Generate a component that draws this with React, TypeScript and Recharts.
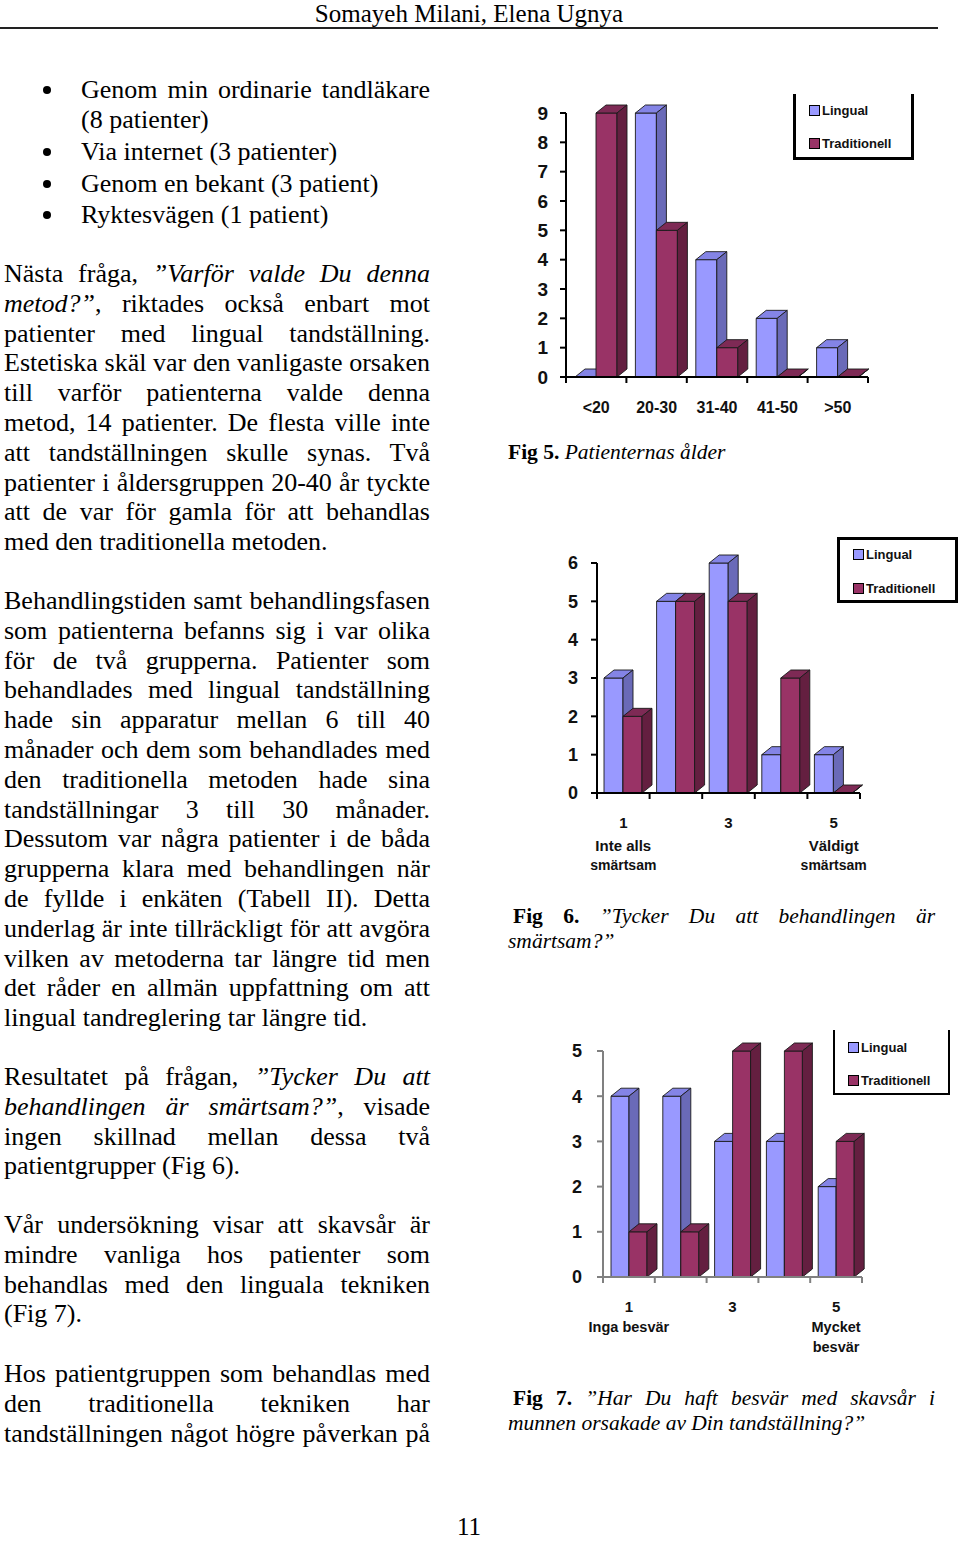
import React from 'react'
import { BarChart, Bar, XAxis, YAxis, Legend } from 'recharts'

// Fig 5 - Patienternas ålder
const AGE_GROUPS = ['<20', '20-30', '31-40', '41-50', '>50']
const AGE_LINGUAL = [0, 9, 4, 2, 1]
const AGE_TRAD = [9, 5, 1, 0, 0]
const AGE_TICKS = [0, 1, 2, 3, 4, 5, 6, 7, 8, 9]

// Fig 6 - smärtsam
const SCALE = ['1', '2', '3', '4', '5']
const PAIN_LABELS = [['1', 'Inte alls', 'smärtsam'], [], ['3'], [], ['5', 'Väldigt', 'smärtsam']]
const PAIN_LINGUAL = [3, 5, 6, 1, 1]
const PAIN_TRAD = [2, 5, 5, 3, 0]
const PAIN_TICKS = [0, 1, 2, 3, 4, 5, 6]

// Fig 7 - skavsår
const SORE_LABELS = [['1', 'Inga besvär'], [], ['3'], [], ['5', 'Mycket', 'besvär']]
const SORE_LINGUAL = [4, 4, 3, 3, 2]
const SORE_TRAD = [1, 1, 5, 5, 3]
const SORE_TICKS = [0, 1, 2, 3, 4, 5]

const SERIES = ['Lingual', 'Traditionell']

const SERIF = '"Liberation Serif", "Times New Roman", serif'
const SANS = '"Liberation Sans", Arial, sans-serif'

const LINGUAL_3D = { front: '#9999ff', top: '#8484e6', side: '#6a6ab8' }
const TRAD_3D = { front: '#993366', top: '#7e2a55', side: '#641f40' }

const DX = 10
const DY = 8

const Bar3D = (p: any) => {
  const { x, y, width, height, colors } = p
  if (x == null || y == null) return null
  const w = width
  const h = Math.max(0, height)
  return (
    <g stroke="#1a1a1a" strokeWidth={0.9} strokeLinejoin="round">
      <rect x={x} y={y} width={w} height={h} fill={colors.front} />
      <polygon points={`${x},${y} ${x + DX},${y - DY} ${x + w + DX},${y - DY} ${x + w},${y}`} fill={colors.top} />
      <polygon points={`${x + w},${y} ${x + w + DX},${y - DY} ${x + w + DX},${y + h - DY} ${x + w},${y + h}`} fill={colors.side} />
    </g>
  )
}

const CatTick = (p: any) => {
  const { x, y, payload, band, lines, offsets, sizes, count, stroke } = p
  const idx = payload.index
  const txt = lines[idx] || []
  return (
    <g>
      <line x1={x - band / 2} x2={x - band / 2} y1={y} y2={y + 6} stroke={stroke} strokeWidth={2} />
      {idx === count - 1 && <line x1={x + band / 2} x2={x + band / 2} y1={y} y2={y + 6} stroke={stroke} strokeWidth={2} />}
      {txt.map((t: string, i: number) => (
        <text key={i} x={x} y={y + offsets[i]} textAnchor="middle" dominantBaseline="central"
          fontFamily={SANS} fontWeight="bold" fontSize={sizes[i]} fill="#111">{t}</text>
      ))}
    </g>
  )
}

const LegendBox = ({ w, h, topBorder, rows, sqLeft, border }: any) => (
  <div style={{ position: 'relative', width: w, height: h, boxSizing: 'border-box', border: `${border}px solid #000`, borderTop: topBorder ? `${border}px solid #000` : 'none', background: '#fff' }}>
    {SERIES.map((s, i) => (
      <div key={s} style={{ position: 'absolute', left: sqLeft - border, top: rows[i] - (topBorder ? border : 0) - 8, height: 16, display: 'flex', alignItems: 'center', fontFamily: SANS, fontWeight: 'bold', fontSize: 13, color: '#111', whiteSpace: 'nowrap' }}>
        <span style={{ display: 'inline-block', width: 9, height: 9, border: '1.5px solid #000', background: i === 0 ? LINGUAL_3D.front : TRAD_3D.front, marginRight: 2 }} />
        {s}
      </div>
    ))}
  </div>
)

type Cfg = {
  left: number; top: number; w: number; h: number
  margin: { top: number; right: number; bottom: number; left: number }
  cats: string[]; lingual: number[]; trad: number[]; ticks: number[]
  labels: string[][]; offsets: number[]; sizes: number[]
  barSize: number; yFont: number; tickMargin: number; axisColor: string; xHeight: number
  legend: any
}

function Chart3D({ c }: { c: Cfg }) {
  const data = c.cats.map((cat, i) => ({ cat, Lingual: c.lingual[i], Traditionell: c.trad[i] }))
  const yW = 40
  const band = (c.w - c.margin.left - c.margin.right - yW) / c.cats.length
  const lg = c.legend
  return (
    <div style={{ position: 'absolute', left: c.left, top: c.top }}>
      <BarChart width={c.w} height={c.h} data={data} margin={c.margin} barGap={0} barSize={c.barSize}>
        <XAxis dataKey="cat" interval={0} tickSize={0} tickMargin={0} height={c.xHeight}
          axisLine={{ stroke: c.axisColor, strokeWidth: 2 }} tickLine={false}
          tick={(p: any) => <CatTick {...p} band={band} lines={c.labels} offsets={c.offsets} sizes={c.sizes} count={c.cats.length} stroke={c.axisColor} />} />
        <YAxis domain={[0, c.ticks[c.ticks.length - 1]]} ticks={c.ticks} interval={0} width={yW}
          tickSize={6} tickMargin={c.tickMargin}
          axisLine={{ stroke: c.axisColor, strokeWidth: 2 }} tickLine={{ stroke: c.axisColor, strokeWidth: 2 }}
          tick={{ fontSize: c.yFont, fontWeight: 'bold', fill: '#111', fontFamily: SANS }} />
        <Legend layout="vertical" align="center" verticalAlign="middle"
          wrapperStyle={{ left: lg.left, top: lg.top, width: lg.w, height: lg.h }}
          content={() => <LegendBox {...lg} />} />
        <Bar dataKey="Lingual" isAnimationActive={false} shape={(p: any) => <Bar3D {...p} colors={LINGUAL_3D} />} />
        <Bar dataKey="Traditionell" isAnimationActive={false} shape={(p: any) => <Bar3D {...p} colors={TRAD_3D} />} />
      </BarChart>
    </div>
  )
}

const FIG5: Cfg = {
  left: 500, top: 80, w: 400, h: 360,
  margin: { top: 33, right: 32, bottom: 23, left: 26 },
  cats: AGE_GROUPS, lingual: AGE_LINGUAL, trad: AGE_TRAD, ticks: AGE_TICKS,
  labels: AGE_GROUPS.map(g => [g]), offsets: [30], sizes: [16],
  barSize: 21, yFont: 19, tickMargin: 12, axisColor: '#000', xHeight: 40,
  legend: { left: 293, top: 14, w: 121, h: 66, topBorder: false, rows: [16, 49], sqLeft: 16, border: 3 },
}

const FIG6: Cfg = {
  left: 530, top: 530, w: 350, h: 360,
  margin: { top: 33, right: 20, bottom: 27, left: 27 },
  cats: SCALE, lingual: PAIN_LINGUAL, trad: PAIN_TRAD, ticks: PAIN_TICKS,
  labels: PAIN_LABELS, offsets: [29, 52, 72], sizes: [15, 15, 14],
  barSize: 19, yFont: 18, tickMargin: 13, axisColor: '#000', xHeight: 70,
  legend: { left: 307, top: 7, w: 121, h: 66, topBorder: true, rows: [17, 51], sqLeft: 16, border: 3 },
}

const FIG7: Cfg = {
  left: 530, top: 1020, w: 350, h: 350,
  margin: { top: 31, right: 18, bottom: 23, left: 33 },
  cats: SCALE, lingual: SORE_LINGUAL, trad: SORE_TRAD, ticks: SORE_TICKS,
  labels: SORE_LABELS, offsets: [29, 50, 70], sizes: [15, 14.5, 14.5],
  barSize: 18, yFont: 18, tickMargin: 15, axisColor: '#808080', xHeight: 70,
  legend: { left: 303, top: 10, w: 117, h: 65, topBorder: false, rows: [17, 50], sqLeft: 15, border: 2 },
}

const Line = ({ x = 4, y, w = 426, size = 26, lh = 30, j = true, children }: any) => (
  <div style={{ position: 'absolute', left: x, top: y - lh / 2, width: w, fontFamily: SERIF, fontSize: size, lineHeight: `${lh}px`, textAlign: j ? 'justify' : 'left', textAlignLast: j ? 'justify' : 'left', whiteSpace: j ? 'normal' : 'nowrap', color: '#000' }}>
    {children}
  </div>
)

const Para = ({ y0, lines, lastJustified = false }: { y0: number; lines: any[]; lastJustified?: boolean }) => (
  <>
    {lines.map((l, i) => <Line key={i} y={y0 + i * 29.8} j={lastJustified || i < lines.length - 1}>{l}</Line>)}
  </>
)

const P1 = [
  <>Nästa fråga, <i>”Varför valde Du denna</i></>,
  <><i>metod?”</i>, riktades också enbart mot</>,
  'patienter med lingual tandställning.',
  'Estetiska skäl var den vanligaste orsaken',
  'till varför patienterna valde denna',
  'metod, 14 patienter. De flesta ville inte',
  'att tandställningen skulle synas. Två',
  'patienter i åldersgruppen 20-40 år tyckte',
  'att de var för gamla för att behandlas',
  'med den traditionella metoden.',
]
const P2 = [
  'Behandlingstiden samt behandlingsfasen',
  'som patienterna befanns sig i var olika',
  'för de två grupperna. Patienter som',
  'behandlades med lingual tandställning',
  'hade sin apparatur mellan 6 till 40',
  'månader och dem som behandlades med',
  'den traditionella metoden hade sina',
  'tandställningar 3 till 30 månader.',
  'Dessutom var några patienter i de båda',
  'grupperna klara med behandlingen när',
  'de fyllde i enkäten (Tabell II). Detta',
  'underlag är inte tillräckligt för att avgöra',
  'vilken av metoderna tar längre tid men',
  'det råder en allmän uppfattning om att',
  'lingual tandreglering tar längre tid.',
]
const P3 = [
  <>Resultatet på frågan, <i>”Tycker Du att</i></>,
  <><i>behandlingen är smärtsam?”</i>, visade</>,
  'ingen skillnad mellan dessa två',
  'patientgrupper (Fig 6).',
]
const P4 = [
  'Vår undersökning visar att skavsår är',
  'mindre vanliga hos patienter som',
  'behandlas med den linguala tekniken',
  '(Fig 7).',
]
const P5 = [
  'Hos patientgruppen som behandlas med',
  'den traditionella tekniken har',
  'tandställningen något högre påverkan på',
]

const BULLETS = [
  { y: 90, t: 'Genom min ordinarie tandläkare', j: true },
  { y: 120, t: '(8 patienter)', j: false, cont: true },
  { y: 152, t: 'Via internet (3 patienter)', j: false },
  { y: 184, t: 'Genom en bekant (3 patient)', j: false },
  { y: 215, t: 'Ryktesvägen (1 patient)', j: false },
]

export default function App() {
  return (
    <div style={{ position: 'absolute', left: 0, top: 0, width: 960, height: 1543, background: '#fff', overflow: 'hidden' }}>
      <div style={{ position: 'absolute', left: 0, width: 938, top: 0, textAlign: 'center', fontFamily: SERIF, fontSize: 25, lineHeight: '28px' }}>
        Somayeh Milani, Elena Ugnya
      </div>
      <div style={{ position: 'absolute', left: 0, top: 27, width: 938, height: 2, background: '#222' }} />

      {BULLETS.map((b, i) => (
        <React.Fragment key={i}>
          {!b.cont && <div style={{ position: 'absolute', left: 43, top: b.y - 4, width: 8, height: 8, borderRadius: 4, background: '#000' }} />}
          <Line x={81} w={349} y={b.y} j={b.j}>{b.t}</Line>
        </React.Fragment>
      ))}

      <Para y0={274} lines={P1} />
      <Para y0={601} lines={P2} />
      <Para y0={1077} lines={P3} />
      <Para y0={1225} lines={P4} />
      <Para y0={1374} lines={P5} lastJustified />

      <Chart3D c={FIG5} />
      <Line x={508} y={452} size={21.5} lh={25} j={false}><b>Fig 5.</b> <i>Patienternas ålder</i></Line>

      <Chart3D c={FIG6} />
      <Line x={513} w={422} y={916} size={21.5} lh={25}><b>Fig 6.</b> <i>”Tycker Du att behandlingen är</i></Line>
      <Line x={508} y={941} size={21.5} lh={25} j={false}><i>smärtsam?”</i></Line>

      <Chart3D c={FIG7} />
      <Line x={513} w={422} y={1398} size={21.5} lh={25}><b>Fig 7.</b> <i>”Har Du haft besvär med skavsår i</i></Line>
      <Line x={508} y={1423} size={21.5} lh={25} j={false}><i>munnen orsakade av Din tandställning?”</i></Line>

      <div style={{ position: 'absolute', left: 0, width: 938, top: 1513, textAlign: 'center', fontFamily: SERIF, fontSize: 25, lineHeight: '28px' }}>11</div>
    </div>
  )
}
